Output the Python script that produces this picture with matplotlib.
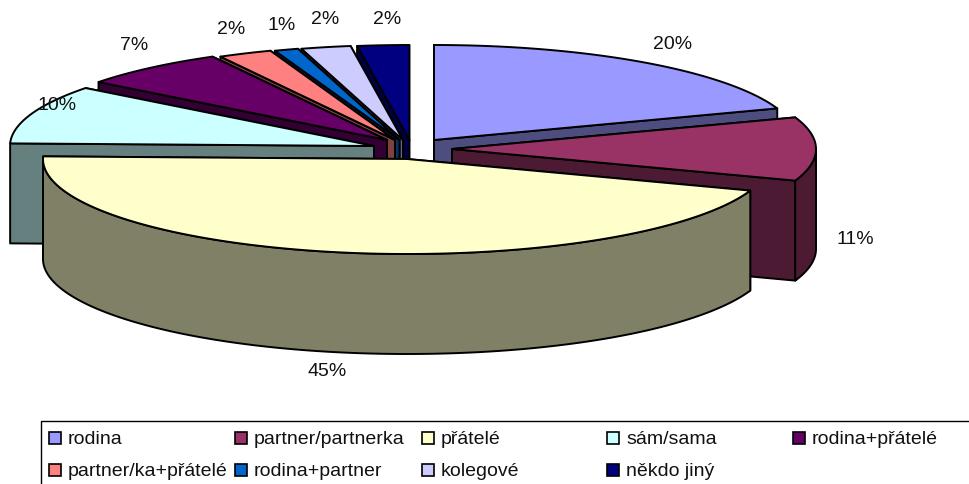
import numpy as np
import matplotlib
matplotlib.use("Agg")
import matplotlib.pyplot as plt
from matplotlib.patches import Polygon, Rectangle

plt.rcParams['font.family'] = ['Liberation Sans', 'DejaVu Sans']

# data
categories = ["rodina", "partner/partnerka", "přátelé", "sám/sama", "rodina+přátelé",
              "partner/ka+přátelé", "rodina+partner", "kolegové", "někdo jiný"]
values = [19.6, 10.8, 45.04, 10.0, 6.6, 2.4, 1.06, 2.2, 2.3]

# styles
top_colors = ["#9999FF", "#993366", "#FFFFCC", "#CCFFFF", "#660066",
              "#FF8080", "#0066CC", "#CCCCFF", "#000080"]
side_colors = ["#4D4D80", "#4D1A33", "#808066", "#668080", "#330033",
               "#804040", "#003366", "#666680", "#000040"]

# layout (pixels of a 970x484 canvas)
apex_x = [434, 452, 407, 374, 387, 395, 399.5, 403, 409.5]
apex_y = [140, 149, 159, 146, 140, 140, 140, 140, 140]
label_x = [673, 855, 327, 57, 134, 231.5, 281.5, 325, 387]
label_y = [44.5, 240, 371, 105, 46, 30, 26, 20, 20]
RX, RY, DEPTH = 364, 95, 100
LW = 1.4
draw_order = [8, 7, 6, 5, 4, 3, 0, 1, 2]

fig = plt.figure(figsize=(9.7, 4.84), dpi=100, facecolor="white")
ax = fig.add_axes([0, 0, 1, 1])
ax.set_xlim(0, 970)
ax.set_ylim(484, 0)
ax.axis("off")


def arc(cx, cy, t1, t2):
    t = np.radians(np.linspace(t1, t2, max(int(abs(t2 - t1) * 2), 2) + 1))
    return np.column_stack([cx + RX * np.sin(t), cy - RY * np.cos(t)])


def poly(pts, color, z):
    ax.add_patch(Polygon(pts, closed=True, facecolor=color, edgecolor="black",
                         linewidth=LW, joinstyle="round", zorder=z))


edges = np.cumsum([0] + values) / np.sum(values) * 360
z = 1
for i in draw_order:
    t1, t2 = edges[i], edges[i + 1]
    cx, cy = apex_x[i], apex_y[i]
    rim = arc(cx, cy, t1, t2)
    down = np.array([0, DEPTH])
    apex = np.array([cx, cy])
    # radial walls hanging from both cut edges, the rear one first
    cuts = (rim[0], rim[-1]) if (t1 + t2) / 2 < 180 else (rim[-1], rim[0])
    for end in cuts:
        poly([apex, end, end + down, apex + down], side_colors[i], z)
        z += 1
    # outer curved wall, only where it faces the viewer
    a, b = max(t1, 90), min(t2, 270)
    if a < b:
        part = arc(cx, cy, a, b)
        poly(np.vstack([part, (part + down)[::-1]]), side_colors[i], z)
        z += 1
    # top face
    poly(np.vstack([apex, rim]), top_colors[i], z)
    z += 1

# percentage labels
total = sum(values)
for v, x, y in zip(values, label_x, label_y):
    ax.text(x, y, f"{v / total * 100:.0f}%", fontsize=14, color="#111111",
            ha="center", va="center", zorder=200)

# legend
ax.add_patch(Rectangle((41, 421), 929, 70, facecolor="white", edgecolor="black",
                       linewidth=1.0, zorder=100, clip_on=True))
col_x = [49, 235, 422, 607, 793]
row_y = [438, 470]
for k, name in enumerate(categories):
    x = col_x[k % 5]
    y = row_y[k // 5]
    ax.add_patch(Rectangle((x, y - 6), 12, 12, facecolor=top_colors[k],
                           edgecolor="black", linewidth=1.2, zorder=101))
    ax.text(x + 19, y, name, fontsize=14, color="#111111", ha="left",
            va="center_baseline", zorder=102)

fig.savefig("out.png", dpi=100)
